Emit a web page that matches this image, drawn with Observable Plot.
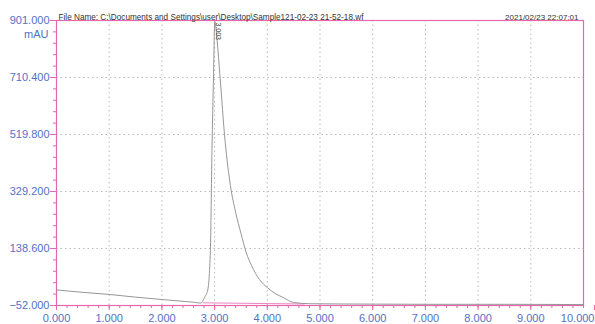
<!DOCTYPE html>
<html><head><meta charset="utf-8">
<script src="https://cdn.jsdelivr.net/npm/d3@7"></script>
<script src="https://cdn.jsdelivr.net/npm/@observablehq/plot@0.6"></script>
<style>body{margin:0;background:#fff;} svg{overflow:visible;}</style>
</head><body><div id="chart"></div>
<script>
const times  = [0, 0.5, 1, 1.5, 2, 2.4, 2.6, 2.74, 2.78, 2.82, 2.87, 2.92, 2.95, 2.98, 3.003, 3.05, 3.1, 3.2, 3.3, 3.4, 3.5, 3.6, 3.7, 3.85, 4.0, 4.15, 4.3, 4.5, 4.8, 5.5, 7, 8.5, 10];
const values = [0, -8, -15, -24, -32, -38, -41, -44, -35, -22, 0, 132, 466, 720, 898, 830, 720, 496, 349, 259, 189, 125, 82, 35, 8, -12, -25, -42, -46, -47, -48, -48, -49];
const baselineT = [2.78, 4.7];
const baselineV = [-43, -47];
const yTicks = [-52, 138.6, 329.2, 519.8, 710.4, 901];
const xTicks = [0,1,2,3,4,5,6,7,8,9,10];
const peakTime = 3.003;
const peakLabel = "3.003";
const fileName = "File Name: C:\\Documents and Settings\\user\\Desktop\\Sample121-02-23 21-52-18.wf";
const stamp = "2021/02/23 22:07:01";

const data = times.map((t,i)=>({t, v: values[i]}));
const base = baselineT.map((t,i)=>({t, v: baselineV[i]}));
const xMinor = d3.range(0, 10.0001, 0.2).map(d=>+d.toFixed(1));
const yMinor = d3.range(0, 26).map(i => -52 + i*38.12);
const pink = "#e467b0";
const blue = "#5470c4";

const chart = Plot.plot({
  width: 595, height: 324,
  marginLeft: 56, marginRight: 12, marginTop: 20, marginBottom: 19,
  style: {fontFamily: "Liberation Sans, Arial, sans-serif", fontSize: "11px", background: "#fff"},
  x: {domain: [0, 10]},
  y: {domain: [-52, 901]},
  marks: [
    Plot.gridX(xTicks.slice(1,-1), {stroke: "#bbb", strokeOpacity: 1, strokeDasharray: "1.5,3"}),
    Plot.gridY(yTicks.slice(1,-1), {stroke: "#bbb", strokeOpacity: 1, strokeDasharray: "1.5,3"}),
    Plot.axisX(xMinor, {tickSize: 3, stroke: pink, tickFormat: null, label: null, text: null}),
    Plot.axisX(xTicks.slice(0,-1), {tickSize: 5, stroke: pink, tickPadding: 4, tickFormat: d3.format(".3f"), fill: blue, label: null, fontSize: 11}),
    Plot.axisX([10], {tickSize: 5, stroke: pink, tickPadding: 4, tickFormat: d3.format(".3f"), fill: blue, label: null, fontSize: 11, textAnchor: "end", dx: 11}),
    Plot.axisY(yMinor, {tickSize: 3, stroke: pink, tickFormat: null, label: null, text: null}),
    Plot.axisY(yTicks, {tickSize: 6, stroke: pink, tickPadding: 1, tickFormat: d3.format(".3f"), fill: blue, label: null, fontSize: 11}),
    Plot.frame({stroke: pink, strokeWidth: 1.2}),
    Plot.line(base, {x: "t", y: "v", stroke: pink, strokeWidth: 0.8}),
    Plot.line(data, {x: "t", y: "v", stroke: "#8a8a8a", strokeWidth: 0.9, curve: "monotone-x"}),
    Plot.text([peakLabel], {x: [peakTime], y: [901], text: d=>d, rotate: 90, textAnchor: "start", dx: 3, dy: 2, fontSize: 7, fill: "#444"}),
    Plot.text(["mAU"], {frameAnchor: "top-left", dx: -8, dy: 10, textAnchor: "end", fill: blue, fontSize: 11}),
    Plot.text([fileName], {frameAnchor: "top-left", dx: 2, dy: -6, textAnchor: "start", fill: "#333", fontSize: 8.2}),
    Plot.text([stamp], {frameAnchor: "top-right", dx: -5, dy: -6, textAnchor: "end", fill: "#333", fontSize: 8})
  ]
});
document.getElementById("chart").append(chart);
</script></body></html>
